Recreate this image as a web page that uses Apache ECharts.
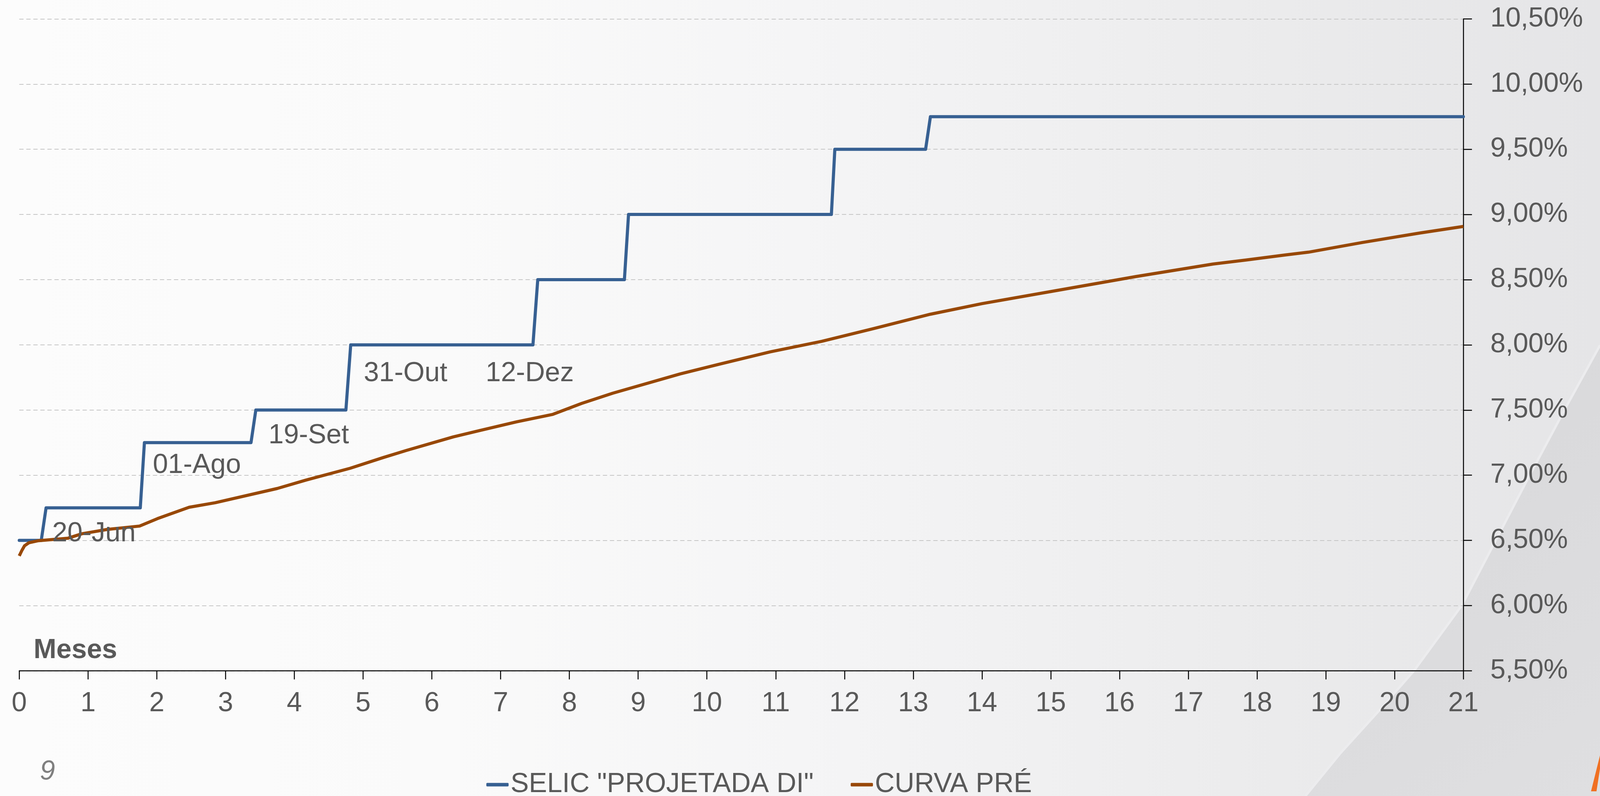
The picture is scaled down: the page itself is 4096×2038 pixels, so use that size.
<!DOCTYPE html>
<html>
<head>
<meta charset="utf-8">
<script src="https://cdn.jsdelivr.net/npm/echarts@6/dist/echarts.min.js"></script>
<style>
html,body{margin:0;padding:0;width:4096px;height:2038px;overflow:hidden;background:#fbfbfb}
#c{width:4096px;height:2038px}
</style>
</head>
<body>
<div id="c"></div>
<script>
// ---- data ----
const selicName = 'SELIC "PROJETADA DI"';
const preName = 'CURVA PRÉ';

const selicX = [0, 0.32, 0.39, 1.76, 1.82, 3.37, 3.44, 4.75, 4.82, 7.47, 7.54, 8.80, 8.86, 11.81, 11.86, 13.18, 13.25, 21];
const selicY = [6.50, 6.50, 6.75, 6.75, 7.25, 7.25, 7.50, 7.50, 8.00, 8.00, 8.50, 8.50, 9.00, 9.00, 9.50, 9.50, 9.75, 9.75];

const preX = [0, 0.04, 0.077, 0.14, 0.27, 0.71, 0.91, 1.28, 1.75, 2.01, 2.47, 2.85, 3.75, 4.17, 4.81, 5.29, 5.63, 6.31, 6.70, 7.23, 7.76, 8.18, 8.63, 9.61, 10.17, 10.92, 11.67, 12.41, 13.25, 14.0, 15.12, 16.24, 17.36, 17.85, 18.40, 18.75, 19.53, 20.37, 21];
const preY = [6.381, 6.425, 6.459, 6.482, 6.497, 6.517, 6.551, 6.584, 6.610, 6.667, 6.754, 6.789, 6.898, 6.963, 7.053, 7.135, 7.19, 7.294, 7.343, 7.409, 7.467, 7.551, 7.629, 7.777, 7.850, 7.946, 8.027, 8.123, 8.235, 8.316, 8.420, 8.524, 8.620, 8.651, 8.689, 8.711, 8.785, 8.858, 8.908];

const annotText = ['20-Jun', '01-Ago', '19-Set', '31-Out', '12-Dez'];
const annotX = [0.478, 1.942, 3.624, 5.010, 6.782];
const annotY = [6.552, 7.076, 7.302, 7.780, 7.780];

const xMin = 0, xMax = 21, xStep = 1;
const yMin = 5.5, yMax = 10.5, yStep = 0.5;
const xAxisTitle = 'Meses';
const pageNumber = '9';

// ---- rendering ----
const FONT = "'Liberation Sans', Arial, sans-serif";
const TXT = '#595959';
const chart = echarts.init(document.getElementById('c'), null, {renderer: 'canvas'});

const zip = (xs, ys) => xs.map((x, i) => [x, ys[i]]);

const option = {
  animation: false,
  backgroundColor: 'transparent',
  textStyle: {fontFamily: FONT},
  graphic: [
    {
      type: 'rect', z: -100, silent: true,
      shape: {x: 0, y: 0, width: 4096, height: 2038},
      style: {fill: new echarts.graphic.LinearGradient(0, 0, 1, 0, [
        {offset: 0, color: '#fcfcfc'},
        {offset: 0.28, color: '#fafafa'},
        {offset: 0.5, color: '#f5f5f6'},
        {offset: 0.65, color: '#f0f0f1'},
        {offset: 0.8, color: '#ebebec'},
        {offset: 1, color: '#e5e5e7'}
      ])}
    },
    {
      type: 'polygon', z: -99, silent: true,
      shape: {points: [[4096, 884], [4008, 1044], [3910, 1228], [3743, 1549], [3620, 1717], [3528, 1822], [3430, 1930], [3342, 2038], [4096, 2038]]},
      style: {fill: new echarts.graphic.LinearGradient(0, 0, 1, 1, [
        {offset: 0, color: '#d7d7d9'},
        {offset: 1, color: '#dfdfe1'}
      ])}
    },
    {
      type: 'polyline', z: -98, silent: true,
      shape: {points: [[4096, 884], [4008, 1044], [3910, 1228], [3743, 1549], [3620, 1717], [3528, 1822], [3430, 1930], [3342, 2038]]},
      style: {stroke: '#ececee', lineWidth: 6, fill: null}
    },
    {
      type: 'polygon', z: -97, silent: true,
      shape: {points: [[4073, 2026], [4087, 2026], [4096, 1968], [4096, 1934]]},
      style: {fill: '#f07022'}
    },
    {
      type: 'text', z: 10, silent: true,
      style: {text: xAxisTitle, x: 86, y: 1666, fontSize: 70, fontWeight: 'bold', fontFamily: FONT, fill: TXT, verticalAlign: 'middle', align: 'left'}
    },
    {
      type: 'text', z: 10, silent: true,
      style: {text: pageNumber, x: 102, y: 1977, fontSize: 70, fontStyle: 'italic', fontFamily: FONT, fill: '#7f7f7f', verticalAlign: 'middle', align: 'left'}
    }
  ],
  grid: {left: 49.3, right: 349.8, top: 48.4, bottom: 320.6, containLabel: false, outerBoundsMode: 'none'},
  legend: {
    data: [selicName, preName],
    left: 1245, top: 1974, padding: 0,
    icon: 'roundRect', itemWidth: 57, itemHeight: 9, itemGap: 95,
    textStyle: {fontSize: 70, color: TXT, fontFamily: FONT},
    selectedMode: false
  },
  xAxis: {
    type: 'value', min: xMin, max: xMax, interval: xStep,
    axisLine: {show: true, onZero: false, lineStyle: {color: '#000', width: 2.5}},
    axisTick: {show: true, inside: false, length: 22, lineStyle: {color: '#000', width: 2.5}},
    axisLabel: {show: true, margin: 49, fontSize: 70, color: TXT, fontFamily: FONT},
    splitLine: {show: false}
  },
  yAxis: {
    type: 'value', position: 'right', min: yMin, max: yMax, interval: yStep,
    axisLine: {show: true, onZero: false, lineStyle: {color: '#000', width: 2.5}},
    axisTick: {show: true, inside: false, length: 22, lineStyle: {color: '#000', width: 2.5}},
    axisLabel: {show: true, margin: 69, fontSize: 70, color: TXT, fontFamily: FONT, align: 'left',
      formatter: v => v.toFixed(2).replace('.', ',') + '%'},
    splitLine: {show: true, lineStyle: {color: '#c6c6c6', width: 2, type: [11, 7]}}
  },
  series: [
    {
      name: selicName, type: 'line', data: zip(selicX, selicY),
      showSymbol: false, symbol: 'none', smooth: false,
      lineStyle: {color: '#376092', width: 8, cap: 'round', join: 'round'},
      itemStyle: {color: '#376092'}
    },
    {
      name: preName, type: 'line', data: zip(preX, preY),
      showSymbol: false, symbol: 'none', smooth: false,
      lineStyle: {color: '#984807', width: 8, cap: 'butt', join: 'round'},
      itemStyle: {color: '#984807'}
    },
    {
      name: 'annotations', type: 'scatter', silent: true,
      data: annotX.map((x, i) => [x, annotY[i], annotText[i]]),
      symbolSize: 0, z: 5,
      itemStyle: {opacity: 1},
      label: {show: true, position: 'right', distance: 0, formatter: p => p.data[2],
        fontSize: 70, color: TXT, opacity: 1, fontFamily: FONT}
    }
  ]
};
chart.setOption(option);
</script>
</body>
</html>
